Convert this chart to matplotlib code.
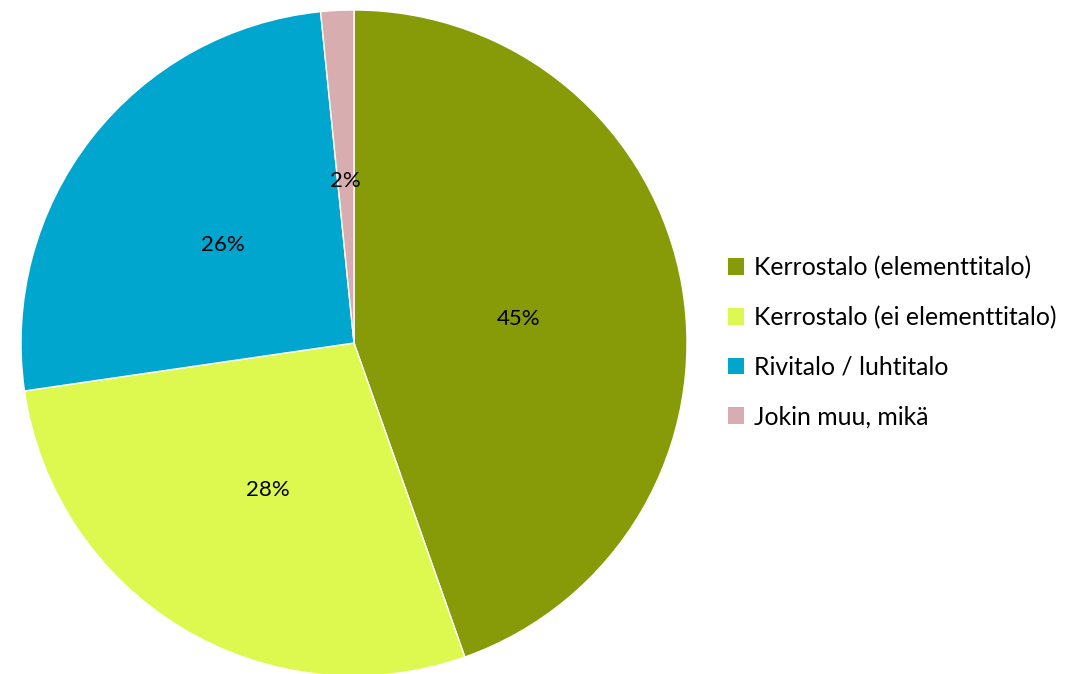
import matplotlib.pyplot as plt
from matplotlib.patches import Patch
import numpy as np

labels = ["Kerrostalo (elementtitalo)", "Kerrostalo (ei elementtitalo)",
          "Rivitalo / luhtitalo", "Jokin muu, mikä"]
values = [44.6, 28.1, 25.7, 1.6]
pct_labels = ["45%", "28%", "26%", "2%"]
colors = ["#869B07", "#DDF94F", "#00A6CE", "#D8ADB0"]

plt.rcParams['font.family'] = ['Lato', 'DejaVu Sans']

fig = plt.figure(figsize=(10.81, 6.74), dpi=100)
ax = fig.add_axes([(354 - 333) / 1081, (331 - 333) / 674, 666 / 1081, 666 / 674])

wedges, _ = ax.pie(values, colors=colors, startangle=90, counterclock=False,
                   radius=1, wedgeprops=dict(edgecolor="white", linewidth=1))
for w, t in zip(wedges, pct_labels):
    ang = np.deg2rad((w.theta1 + w.theta2) / 2)
    ax.text(0.5 * np.cos(ang), 0.5 * np.sin(ang) - 0.012, t, ha="center", va="center",
            fontsize=16, color="black")
ax.set_xlim(-1.0, 1.0)
ax.set_ylim(-1.0, 1.0)
ax.set_aspect("equal")
ax.axis("off")

handles = [Patch(facecolor=c, edgecolor="none") for c in colors]
fig.legend(handles, labels, loc="center left", bbox_to_anchor=(706 / 1081, 1 - 342 / 674),
           frameon=False, fontsize=17.8, handlelength=0.65, handleheight=0.65,
           handletextpad=0.4, labelspacing=1.08)

fig.savefig("out.png", dpi=100)
